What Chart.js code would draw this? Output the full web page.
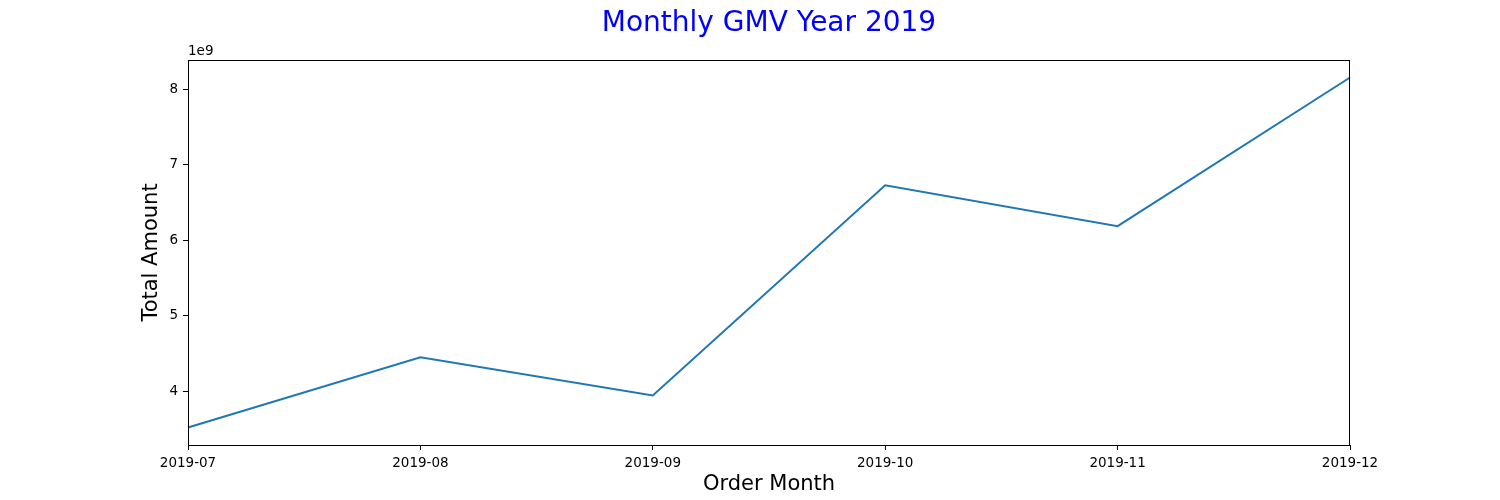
<!DOCTYPE html>
<html>
<head>
<meta charset="utf-8">
<script src="https://cdn.jsdelivr.net/npm/chart.js@4/dist/chart.umd.min.js"></script>
<style>
  html, body { margin: 0; padding: 0; background: #ffffff; }
  #c { display: block; }
</style>
</head>
<body>
<canvas id="c" width="1500" height="500"></canvas>
<script>
// ---- data ----
const months = ['2019-07', '2019-08', '2019-09', '2019-10', '2019-11', '2019-12'];
const gmv = [3.523e9, 4.451e9, 3.947e9, 6.727e9, 6.187e9, 8.154e9];
const yTicks = [4e9, 5e9, 6e9, 7e9, 8e9];
const titleText = 'Monthly GMV Year 2019';
const xLabel = 'Order Month';
const yLabel = 'Total Amount';
const offsetText = '1e9';

// matplotlib-like 5% margins around the data
const dMin = Math.min(...gmv), dMax = Math.max(...gmv);
const margin = (dMax - dMin) * 0.05;

const FONT = '"DejaVu Sans", sans-serif';
const TICK_SIZE = 13.5;

const framePlugin = {
  id: 'frame',
  afterDraw(chart) {
    const {ctx, chartArea: a} = chart;
    ctx.save();
    ctx.strokeStyle = '#000000';
    ctx.lineWidth = 1;
    ctx.strokeRect(Math.round(a.left) + 0.5, Math.round(a.top) + 0.5,
                   Math.round(a.right - a.left) - 1, Math.round(a.bottom - a.top));
    // offset text "1e9"
    ctx.fillStyle = '#000000';
    ctx.font = TICK_SIZE + 'px ' + FONT;
    ctx.textAlign = 'left';
    ctx.textBaseline = 'alphabetic';
    ctx.fillText(offsetText, a.left, a.top - 5);
    ctx.restore();
  }
};

new Chart(document.getElementById('c'), {
  type: 'line',
  data: {
    labels: months,
    datasets: [{
      data: gmv,
      borderColor: '#1f77b4',
      borderWidth: 2,
      pointRadius: 0,
      pointHoverRadius: 0,
      tension: 0,
      fill: false
    }]
  },
  options: {
    responsive: false,
    animation: false,
    devicePixelRatio: 1,
    layout: { padding: { left: 130, right: 150, top: 0, bottom: 0 } },
    plugins: {
      legend: { display: false },
      tooltip: { enabled: false },
      title: {
        display: true,
        text: titleText,
        color: '#0000ff',
        fullSize: false,
        font: { family: FONT, size: 28, weight: 'normal', lineHeight: 1.2 },
        padding: { top: 7, bottom: 19.4 }
      }
    },
    scales: {
      x: {
        type: 'category',
        offset: false,
        grid: { display: true, drawOnChartArea: false, drawTicks: true, tickLength: 5, color: '#000000' },
        border: { display: true, color: '#000000', width: 1 },
        ticks: {
          autoSkip: false, maxRotation: 0, minRotation: 0, padding: 5,
          color: '#000000', font: { family: FONT, size: TICK_SIZE }
        },
        title: {
          display: true, text: xLabel, color: '#000000',
          font: { family: FONT, size: 21, lineHeight: 1.2 },
          padding: { top: 0, bottom: 3 }
        },
        afterFit(scale) { scale.height = 55; }
      },
      y: {
        type: 'linear',
        min: dMin - margin,
        max: dMax + margin,
        afterBuildTicks(scale) { scale.ticks = yTicks.map(v => ({ value: v })); },
        grid: { display: true, drawOnChartArea: false, drawTicks: true, tickLength: 5, color: '#000000' },
        border: { display: true, color: '#000000', width: 1 },
        ticks: {
          padding: 5, color: '#000000', font: { family: FONT, size: TICK_SIZE },
          callback: (v) => String(Math.round(v / 1e9))
        },
        title: {
          display: true, text: yLabel, color: '#000000',
          font: { family: FONT, size: 21, lineHeight: 1.2 },
          padding: { top: 9, bottom: 0 }
        },
        afterFit(scale) { scale.width = 58; }
      }
    }
  },
  plugins: [framePlugin]
});
</script>
</body>
</html>
